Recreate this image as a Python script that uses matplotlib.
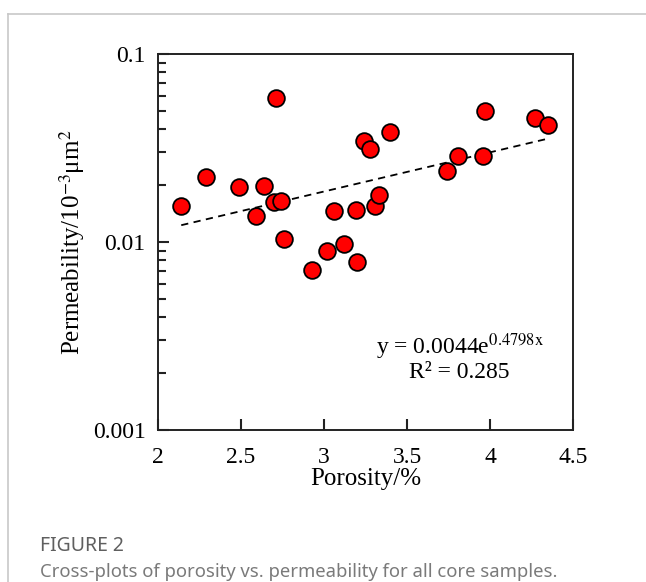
import numpy as np
import matplotlib
matplotlib.use("Agg")
import matplotlib.pyplot as plt
import matplotlib.ticker as mticker
from matplotlib.lines import Line2D

plt.rcParams.update({
    "font.family": ["Liberation Serif", "DejaVu Serif"],
    "mathtext.fontset": "stix",
})

# ── Dados ───────────────────────────────────────────────────────────────────
porosidade = [2.14, 2.29, 2.49, 2.64, 2.59, 2.70, 2.74, 2.71, 2.76, 2.93, 3.02,
              3.06, 3.12, 3.20, 3.19, 3.24, 3.28, 3.31, 3.33, 3.40, 3.74, 3.81,
              3.96, 3.97, 4.27, 4.35]
permeabilidade = [0.0155, 0.0221, 0.0195, 0.0198, 0.0137, 0.0164, 0.0166, 0.0585,
                  0.0104, 0.0071, 0.0090, 0.0147, 0.0097, 0.0078, 0.0148, 0.0343,
                  0.0314, 0.0155, 0.0177, 0.0384, 0.0239, 0.0286, 0.0286, 0.0495,
                  0.0455, 0.0421]

# ajuste exponencial informado no gráfico
coef_a, coef_b = 0.0044, 0.4798
x_ajuste = np.linspace(min(porosidade), max(porosidade), 50)
y_ajuste = coef_a * np.exp(coef_b * x_ajuste)

W, H = 646, 582
fig = plt.figure(figsize=(W / 100, H / 100), dpi=100)

# moldura cinza do cartão
fig.add_artist(Line2D([8 / W, 1], [1 - 14 / H, 1 - 14 / H], color="#c8c8c8", lw=1.2))
fig.add_artist(Line2D([8 / W, 8 / W], [0, 1 - 14 / H], color="#c8c8c8", lw=1.2))

ax = fig.add_axes([158 / W, 1 - 430 / H, (573 - 158) / W, (430 - 54) / H])

ax.plot(x_ajuste, y_ajuste, color="black", linestyle=(0, (4, 3)), linewidth=1.3, zorder=2)
ax.scatter(porosidade, permeabilidade, s=145, color="#ff0000", edgecolor="black",
           linewidth=1.3, zorder=3)

ax.set_yscale("log")
ax.set_ylim(0.001, 0.1)
ax.set_xlim(2, 4.5)
ax.xaxis.set_major_locator(mticker.MultipleLocator(0.5))
ax.xaxis.set_major_formatter(mticker.FuncFormatter(lambda v, _: f"{v:g}"))
ax.yaxis.set_major_locator(mticker.FixedLocator([0.001, 0.01, 0.1]))
menores = [k * 10.0 ** e for e in (-3, -2) for k in range(2, 10)]
ax.yaxis.set_minor_locator(mticker.FixedLocator(menores))
ax.yaxis.set_major_formatter(mticker.FuncFormatter(lambda v, _: f"{v:g}"))
ax.yaxis.set_minor_formatter(mticker.NullFormatter())

ax.tick_params(axis="both", which="both", direction="in", labelsize=17, width=1.5,
               color="#222222")
ax.tick_params(axis="both", which="major", length=8)
ax.tick_params(axis="y", which="minor", length=6)
ax.tick_params(axis="x", which="major", pad=12)
ax.tick_params(axis="y", which="major", pad=9)
for sp in ax.spines.values():
    sp.set_linewidth(1.4)
    sp.set_color("#222222")

ax.set_xlabel("Porosity/%", fontsize=18, labelpad=0)
ax.set_ylabel("Permeability/10$^{-3}$μm$^{2}$", fontsize=18, labelpad=4)

ax.text(460 / W, 1 - 347 / H, "y = 0.0044e$^{\\mathrm{0.4798x}}$", transform=fig.transFigure,
        fontsize=17, ha="center", va="center")
ax.text(459 / W, 1 - 373 / H, "R² = 0.285", transform=fig.transFigure,
        fontsize=17, ha="center", va="center")

# legenda da figura
fig.text(40 / W, 1 - 546 / H, "FIGURE 2", fontsize=14, color="#5f5f5f",
         family="Noto Sans", fontweight="semibold", va="center")
fig.text(40 / W, 1 - 572 / H, "Cross-plots of porosity vs. permeability for all core samples.",
         fontsize=13.3, color="#7a7a7a", family="Noto Sans", va="center")

fig.savefig("out.png", dpi=100)
